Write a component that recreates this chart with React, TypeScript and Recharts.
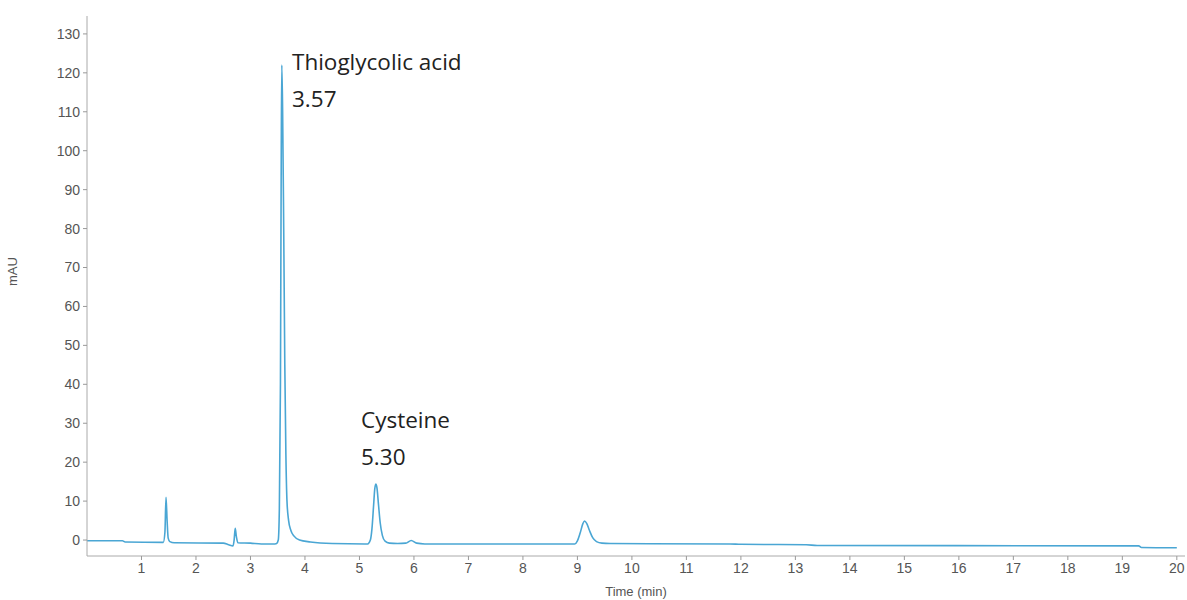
import { LineChart, Line, XAxis, YAxis } from "recharts";

// retention time (min)
const times = [
  0, 0.65, 0.7, 1.4, 1.43, 1.45, 1.47, 1.49, 1.52, 1.6,
  2.5, 2.6, 2.68, 2.7, 2.72, 2.74, 2.77, 3.0, 3.2, 3.45,
  3.48, 3.51, 3.53, 3.55, 3.565, 3.575, 3.59, 3.61, 3.63, 3.65,
  3.67, 3.7, 3.74, 3.8, 3.9, 4.1, 4.5, 5.1, 5.15, 5.2,
  5.23, 5.26, 5.28, 5.3, 5.32, 5.35, 5.38, 5.42, 5.47, 5.55,
  5.7, 5.85, 5.95, 6.05, 6.2, 8.9, 8.95, 9.0, 9.05, 9.1,
  9.13, 9.17, 9.22, 9.28, 9.35, 9.45, 9.6, 11.8, 12, 13.2,
  13.4, 19.3, 19.35, 20,
];

// absorbance (mAU)
const signal = [
  -0.2, -0.2, -0.5, -0.6, 2, 11, 5, 0.5, -0.4, -0.7,
  -0.8, -1.2, -1.5, 0, 3, 1, -0.7, -0.8, -1.0, -1.0,
  -0.9, 0, 8, 40, 100, 122, 110, 80, 45, 22,
  10, 5, 2.5, 1, 0, -0.5, -0.9, -1.0, -1.0, 0,
  3, 9, 13, 14.4, 13.5, 9, 4.5, 1.2, -0.3, -0.8,
  -0.9, -0.8, -0.1, -0.8, -1.0, -1.0, -1.0, -0.2, 1.8, 4.2,
  4.9, 4.3, 2.5, 0.6, -0.4, -0.8, -0.9, -1.0, -1.1, -1.2,
  -1.4, -1.5, -1.9, -2.0,
];

const xTicks = [1, 2, 3, 4, 5, 6, 7, 8, 9, 10, 11, 12, 13, 14, 15, 16, 17, 18, 19, 20];
const yTicks = [0, 10, 20, 30, 40, 50, 60, 70, 80, 90, 100, 110, 120, 130];

const peaks = [
  { name: "Thioglycolic acid", rt: "3.57", x: 292, y: 70 },
  { name: "Cysteine", rt: "5.30", x: 361, y: 428 },
];

const data = times.map((t, i) => ({ t, v: signal[i] }));

const tickStyle = { fill: "#555", fontSize: 14, fontFamily: "Liberation Sans, Arial, sans-serif" };

export default function App() {
  return (
    <div style={{ position: "absolute", left: 0, top: 0, width: 1187, height: 600, background: "#fff" }}>
      <LineChart width={1187} height={600} data={data} margin={{ top: 16, right: 2, bottom: 0, left: 0 }}>
        <XAxis
          dataKey="t"
          type="number"
          domain={[0, 20.15]}
          ticks={xTicks}
          allowDataOverflow
          height={44}
          tickSize={4}
          tickMargin={3}
          tick={tickStyle}
          stroke="#aaa"
          tickLine={{ stroke: "#999" }}
          label={{ value: "Time (min)", position: "insideBottom", offset: 4, fill: "#555", fontSize: 13, fontFamily: "Liberation Sans, Arial, sans-serif" }}
        />
        <XAxis xAxisId="top" orientation="top" dataKey="t" type="number" domain={[0, 20.15]} height={0} tick={false} tickLine={false} stroke="#c4c4c4" />
        <YAxis
          type="number"
          domain={[-4.1, 134.6]}
          ticks={yTicks}
          allowDataOverflow
          width={87}
          tickSize={4}
          tickMargin={3}
          tick={tickStyle}
          stroke="#aaa"
          tickLine={{ stroke: "#999" }}
          label={{ value: "mAU", angle: -90, position: "insideLeft", offset: 12, fill: "#555", fontSize: 13, fontFamily: "Liberation Sans, Arial, sans-serif" }}
        />
        <YAxis yAxisId="right" orientation="right" width={0} tick={false} tickLine={false} stroke="#e6e6e6" />
        <Line
          dataKey="v"
          type="monotone"
          stroke="#4aa6d4"
          strokeWidth={1.6}
          dot={false}
          isAnimationActive={false}
        />
      </LineChart>
      <svg width={1187} height={600} style={{ position: "absolute", left: 0, top: 0, pointerEvents: "none" }}>
        {peaks.map((p) => (
          <g key={p.name} fontFamily="Open Sans, sans-serif" fontSize={22.5} fill="#222">
            <text x={p.x} y={p.y}>{p.name}</text>
            <text x={p.x} y={p.y + 37}>{p.rt}</text>
          </g>
        ))}
      </svg>
    </div>
  );
}
